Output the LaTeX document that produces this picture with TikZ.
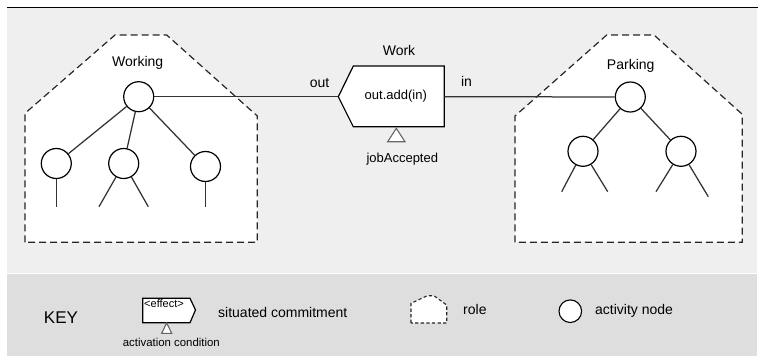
\documentclass[tikz,border=0pt]{standalone}
\usepackage{fontspec}
\setmainfont{Liberation Sans}
\begin{document}
\begin{tikzpicture}[x=1pt,y=-1pt,
  act/.style={circle, draw=black, fill=white, line width=1.2pt, minimum size=30pt, inner sep=0pt},
  smallact/.style={circle, draw=black, fill=white, line width=1.1pt, minimum size=22.6pt, inner sep=0pt},
  edge/.style={line width=1.25pt, draw=black!80},
  rolebox/.style={draw=black!85, dash pattern=on 7pt off 4pt, line width=1.2pt, fill=white},
  smallrole/.style={draw=black!85, dash pattern=on 3.3pt off 2.3pt, line width=1.1pt, fill=white},
  commit/.style={draw=black, fill=white, line width=1.2pt},
  cond/.style={draw=black!60, fill=white, line width=1.1pt},
  lbl/.style={font=\fontsize{14}{14}\selectfont, anchor=base, inner sep=0pt},
  mid/.style={font=\fontsize{13}{13}\selectfont, anchor=base, inner sep=0pt},
  tiny/.style={anchor=base, inner sep=0pt}]
\definecolor{lightbg}{HTML}{EFEFEF}
\definecolor{darkbg}{HTML}{DEDEDE}
\useasboundingbox (0,0) rectangle (758,356);
% backgrounds
\fill[lightbg] (7,8.3) rectangle (757,272.7);
\fill[darkbg] (7,274.3) rectangle (757,356);
\draw[line width=1.6pt] (7,7.5) -- (758,7.5);
% roles
\draw[rolebox] (25,242.3) -- (25,113.3) -- (115,35) -- (166.7,35) -- (257.3,116) -- (257.3,242.3) -- cycle;
\draw[rolebox] (515,242.3) -- (515,116) -- (606.7,35) -- (654,35) -- (742.3,114.3) -- (742.3,242.3) -- cycle;
\node[lbl] (working) at (137.7,66.5) {Working};
\node[lbl] (parking) at (630.7,69) {Parking};
% Working tree
\node[act] (w0) at (138.7,96.7) {};
\node[act] (w1) at (56.3,163.5) {};
\node[act] (w2) at (123.7,163.5) {};
\node[act] (w3) at (205.5,166.5) {};
\coordinate (w1l) at (56.3,206.7);
\coordinate (w2a) at (99,206.7);
\coordinate (w2b) at (148.3,206.7);
\coordinate (w3l) at (205.5,206.7);
\draw[edge] (w0) -- (w1);
\draw[edge] (w0) -- (w2);
\draw[edge] (w0) -- (w3);
\draw[edge] (w1) -- (w1l);
\draw[edge] (w2) -- (w2a);
\draw[edge] (w2) -- (w2b);
\draw[edge] (w3) -- (w3l);
% Parking tree
\node[act] (p0) at (630.3,97) {};
\node[act] (p1) at (583,151.3) {};
\node[act] (p2) at (681,151.3) {};
\coordinate (p1a) at (561.7,191.7);
\coordinate (p1b) at (607.7,191.7);
\coordinate (p2a) at (656,191.7);
\coordinate (p2b) at (708.3,196.7);
\draw[edge] (p0) -- (p1);
\draw[edge] (p0) -- (p2);
\draw[edge] (p1) -- (p1a);
\draw[edge] (p1) -- (p1b);
\draw[edge] (p2) -- (p2a);
\draw[edge] (p2) -- (p2b);
% Work commitment
\coordinate (wl) at (338.3,96.7);
\coordinate (wr) at (444.3,96.7);
\draw[commit] (wl) -- (353.3,66) -- (444.3,66) -- (444.3,126.7) -- (353.3,126.7) -- cycle;
\draw[cond] (396.3,128.3) -- (405,141.7) -- (387.7,141.7) -- cycle;
\draw[edge] (w0) -- (wl);
\draw[edge] (wr) -- (p0);
\node[lbl] (work) at (399,55.5) {Work};
\node[mid] (effect) at (395.8,99) {out.add(in)};
\node[lbl] (outl) at (319.5,87) {out};
\node[lbl] (inl) at (466.5,86.5) {in};
\node[mid] (job) at (402.3,162.5) {jobAccepted};
% KEY
\node[font=\fontsize{17}{17}\selectfont, anchor=base, inner sep=0pt] (key) at (61,323) {KEY};
\draw[commit] (142.7,298.3) -- (190,298.3) -- (195.5,310) -- (190,322.7) -- (142.7,322.7) -- cycle;
\draw[cond] (166.7,322.9) -- (171.7,333.3) -- (161.7,333.3) -- cycle;
\node[tiny, font=\fontsize{11}{11}\selectfont] (keff) at (164,307.5) {<effect>};
\node[tiny, font=\fontsize{11.4}{11.4}\selectfont] (kact) at (171.3,346) {activation condition};
\node[lbl, anchor=base west] (ksit) at (218,317) {situated commitment};
\draw[smallrole] (411,323) -- (411,303.3) -- (427.3,295.7) -- (434,295.7) -- (446.7,305) -- (446.7,323) -- cycle;
\node[lbl, anchor=base west] (krole) at (463,314.5) {role};
\node[smallact] (kcirc) at (570.3,311.2) {};
\node[lbl, anchor=base west] (kactn) at (595,314.5) {activity node};
\end{tikzpicture}
\end{document}
